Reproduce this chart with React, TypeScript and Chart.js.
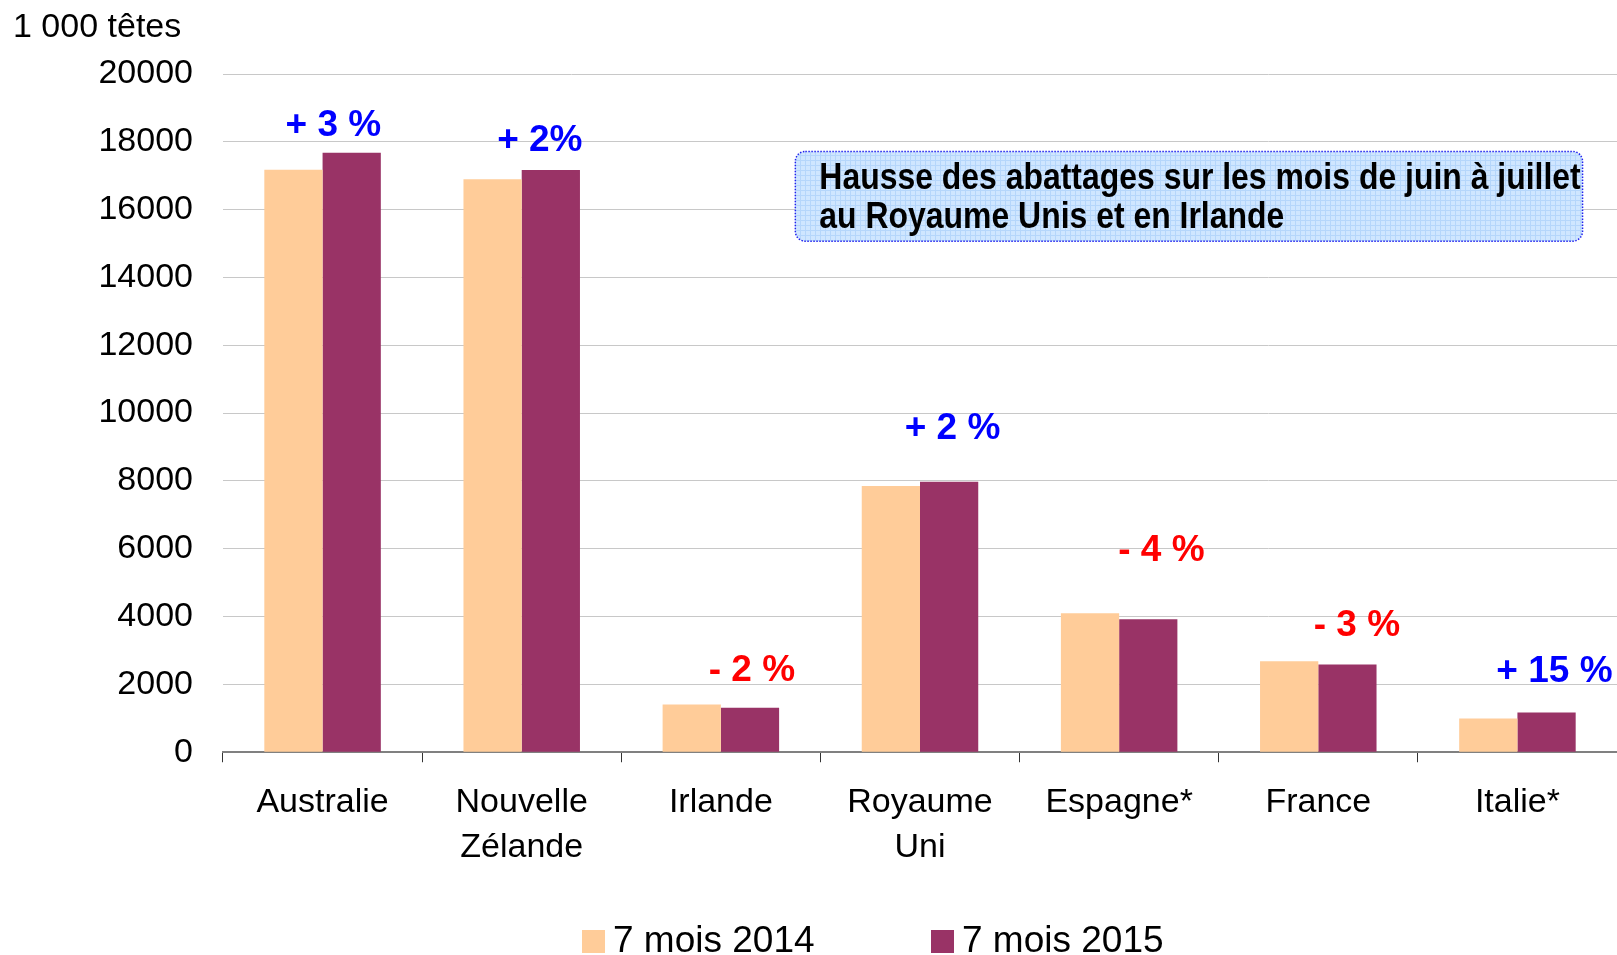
import React, { useEffect, useRef } from 'react';
import { Chart, registerables } from 'chart.js';

Chart.register(...registerables);

const categories: string[][] = [
  ['Australie'],
  ['Nouvelle', 'Zélande'],
  ['Irlande'],
  ['Royaume', 'Uni'],
  ['Espagne*'],
  ['France'],
  ['Italie*'],
];
const seriesNames = ['7 mois 2014', '7 mois 2015'];
const values2014 = [17180, 16900, 1410, 7850, 4095, 2680, 995];
const values2015 = [17680, 17170, 1315, 7975, 3920, 2590, 1170];
const yTickMin = 0;
const yTickMax = 20000;
const yTickStep = 2000;
const yAxisTitle = '1 000 têtes';

const changeLabels = ['+ 3 %', '+ 2%', '- 2 %', '+ 2 %', '- 4 %', '- 3 %', '+ 15 %'];
const changeColors = ['#0000FF', '#0000FF', '#FF0000', '#0000FF', '#FF0000', '#FF0000', '#0000FF'];
const changeLabelY = [18570, 18120, 2500, 9616, 6043, 3810, 2470];
const changeLabelDx = [0.054, 0.091, 0.156, 0.163, 0.212, 0.194, 0.186];

const noteLines = ['Hausse des abattages sur les mois de juin à juillet', 'au Royaume Unis et en Irlande'];
// note box placement in axis units (category index, value)
const noteBox = { x0: 2.374, x1: 6.327, yTop: 17718, yBottom: 15069 };

const colors = ['#FFCC99', '#993366'];

const FONT = '"Liberation Sans", Arial, sans-serif';

export default function App() {
  const ref = useRef<HTMLCanvasElement | null>(null);

  useEffect(() => {
    const canvas = ref.current;
    if (!canvas) return;

    const overlay = {
      id: 'overlay',
      afterDatasetsDraw(chart: any) {
        const ctx = chart.ctx as CanvasRenderingContext2D;
        const xs = chart.scales.x;
        const ys = chart.scales.y;
        ctx.save();
        // percentage labels
        ctx.font = `bold 37px ${FONT}`;
        ctx.textAlign = 'center';
        ctx.textBaseline = 'middle';
        changeLabels.forEach((t, i) => {
          ctx.fillStyle = changeColors[i];
          ctx.fillText(t, xs.getPixelForValue(i + changeLabelDx[i]), ys.getPixelForValue(changeLabelY[i]) + 3);
        });

        // note box
        const bx0 = xs.getPixelForValue(noteBox.x0);
        const bx1 = xs.getPixelForValue(noteBox.x1);
        const by0 = ys.getPixelForValue(noteBox.yTop);
        const by1 = ys.getPixelForValue(noteBox.yBottom);
        const pc = document.createElement('canvas');
        pc.width = 5;
        pc.height = 5;
        const pctx = pc.getContext('2d')!;
        pctx.fillStyle = '#CFE6FF';
        pctx.fillRect(0, 0, 5, 5);
        pctx.fillStyle = '#B5D6FB';
        pctx.fillRect(0, 0, 5, 1);
        pctx.fillRect(0, 0, 1, 5);
        const pattern = ctx.createPattern(pc, 'repeat')!;
        ctx.beginPath();
        ctx.roundRect(bx0, by0, bx1 - bx0, by1 - by0, 10);
        ctx.fillStyle = pattern;
        ctx.fill();
        ctx.setLineDash([1.5, 1.5]);
        ctx.lineWidth = 1.5;
        ctx.strokeStyle = '#2222EE';
        ctx.stroke();
        ctx.setLineDash([]);
        ctx.fillStyle = '#000';
        ctx.textAlign = 'left';
        ctx.textBaseline = 'middle';
        ctx.font = `bold 36px ${FONT}`;
        const lh = 39;
        const textTop = (by0 + by1) / 2 - lh / 2 + 2;
        noteLines.forEach((l, i) => {
          ctx.save();
          ctx.translate(bx0 + 24, textTop + i * lh);
          ctx.scale(0.887, 1);
          ctx.fillText(l, 0, 0);
          ctx.restore();
        });

        // y axis title
        ctx.font = `34px ${FONT}`;
        ctx.textAlign = 'left';
        ctx.textBaseline = 'alphabetic';
        ctx.fillStyle = '#000';
        ctx.fillText(yAxisTitle, 13, 37);

        // legend
        const legendX = [582, 931];
        ctx.font = `37px ${FONT}`;
        seriesNames.forEach((n, i) => {
          ctx.fillStyle = colors[i];
          ctx.fillRect(legendX[i], 930, 23, 23);
          ctx.fillStyle = '#000';
          ctx.fillText(n, legendX[i] + 31, 952);
        });
        ctx.restore();
      },
    };

    const chart = new Chart(canvas, {
      type: 'bar',
      data: {
        labels: categories,
        datasets: [
          { label: seriesNames[0], data: values2014, backgroundColor: colors[0], borderWidth: 0 },
          { label: seriesNames[1], data: values2015, backgroundColor: colors[1], borderWidth: 0 },
        ],
      },
      options: {
        animation: false,
        responsive: true,
        maintainAspectRatio: false,
        layout: { padding: { top: 74, bottom: 67, left: 0, right: 0 } },
        datasets: { bar: { categoryPercentage: 0.585, barPercentage: 1.0 } },
        plugins: {
          legend: { display: false },
          tooltip: { enabled: false },
          title: { display: false },
        },
        scales: {
          x: {
            grid: {
              display: true,
              drawOnChartArea: false,
              drawTicks: true,
              tickLength: 10,
              color: '#333333',
              offset: true,
            },
            border: { display: true, color: '#808080', width: 2 },
            ticks: {
              color: '#000',
              font: { family: FONT, size: 34, lineHeight: 1.32 },
              padding: 18,
              maxRotation: 0,
              autoSkip: false,
            },
          },
          y: {
            min: yTickMin,
            max: yTickMax,
            afterFit: (scale: any) => {
              scale.width = 223;
            },
            grid: { color: '#C8C8C8', lineWidth: 1, drawTicks: false },
            border: { display: false },
            ticks: {
              stepSize: yTickStep,
              color: '#000',
              font: { family: FONT, size: 34 },
              padding: 30,
              callback: (v: any) => String(v),
            },
          },
        },
      },
      plugins: [overlay],
    });
    return () => chart.destroy();
  }, []);

  return (
    <div style={{ position: 'absolute', left: 0, top: 0, width: 1617, height: 955, background: '#fff' }}>
      <canvas ref={ref} />
    </div>
  );
}
